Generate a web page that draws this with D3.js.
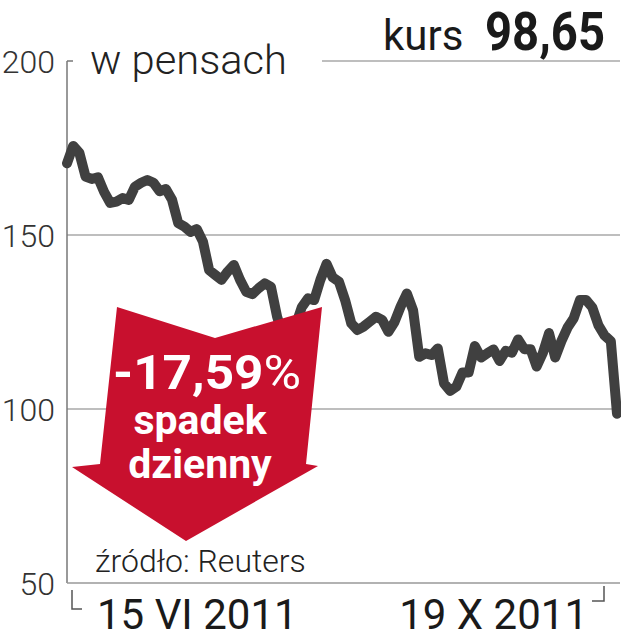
<!DOCTYPE html>
<html>
<head>
<meta charset="utf-8">
<script src="https://cdn.jsdelivr.net/npm/d3@7/dist/d3.min.js"></script>
<style>
  html, body { margin: 0; padding: 0; background: #fff; }
  svg { display: block; }
  text { font-family: Roboto, "Noto Sans", sans-serif; }
</style>
</head>
<body>
<svg id="chart" width="621" height="640"></svg>
<script>
// ---- data ----
const yTicks = [50, 100, 150, 200];
const dateLabels = ["15 VI 2011", "19 X 2011"];
const unitLabel = "w pensach";
const priceLabel = "kurs";
const priceValue = "98,65";
const changeLabel = "-17,59";
const changeLines = ["spadek", "dzienny"];
const sourceLabel = "źródło: Reuters";
const closes = [
  170.6, 175.6, 173.6, 166.8, 166.1, 166.6, 162.4, 159.2, 159.6, 160.6,
  160.1, 163.9, 165.0, 165.8, 165.0, 162.6, 163.2, 160.1, 153.4, 152.4,
  150.9, 151.7, 148.1, 139.9, 138.5, 137.1, 139.5, 141.4, 137.1, 133.7,
  133.0, 134.7, 136.1, 135.1, 126.5, 121.0, 119.0, 124.0, 129.3, 131.8,
  131.3, 137.1, 141.7, 137.8, 136.6, 131.3, 124.6, 122.7, 123.7, 125.1,
  126.5, 125.6, 122.2, 125.0, 129.5, 133.2, 128.4, 115.0, 116.0, 115.5,
  117.4, 107.4, 105.2, 106.4, 110.5, 110.5, 118.1, 114.8, 116.0, 117.1,
  113.8, 116.7, 116.2, 120.0, 117.2, 117.2, 112.2, 116.1, 121.8, 114.8,
  119.5, 123.4, 126.1, 131.3, 131.3, 129.2, 124.0, 121.1, 119.5, 98.65
];
const days = closes.map((d, i) => i);

// ---- layout ----
const svg = d3.select("#chart");
const pLeft = 67, pRight = 617, pTop = 61, pBottom = 583;
const x = d3.scaleLinear().domain([0, days.length - 1]).range([pLeft, pRight]);
const y = d3.scaleLinear().domain([50, 200]).range([pBottom, pTop]);

// gridlines
svg.append("g").selectAll("line").data([100, 150]).join("line")
  .attr("x1", pLeft).attr("x2", 620)
  .attr("y1", d => y(d)).attr("y2", d => y(d))
  .attr("stroke", "#a8a8a8").attr("stroke-width", 1.5);
// top line under price
svg.append("line").attr("x1", 322).attr("x2", 620)
  .attr("y1", y(200)).attr("y2", y(200))
  .attr("stroke", "#a8a8a8").attr("stroke-width", 1.5);
svg.append("line").attr("x1", pLeft).attr("x2", 73)
  .attr("y1", y(200)).attr("y2", y(200))
  .attr("stroke", "#777").attr("stroke-width", 1.5);
// axes lines
svg.append("line").attr("x1", pLeft).attr("x2", pLeft)
  .attr("y1", y(200)).attr("y2", y(50))
  .attr("stroke", "#777").attr("stroke-width", 1.5);
svg.append("line").attr("x1", pLeft).attr("x2", 620)
  .attr("y1", y(50)).attr("y2", y(50))
  .attr("stroke", "#999").attr("stroke-width", 1.5);

// y axis labels
const yAxis = d3.axisLeft(y).tickValues(yTicks).tickSize(0).tickPadding(12);
const gy = svg.append("g").attr("transform", `translate(${pLeft},0)`).call(yAxis);
gy.select(".domain").remove();
gy.selectAll("text")
  .attr("font-family", "Roboto, sans-serif")
  .attr("font-weight", 300)
  .attr("font-size", 32)
  .attr("fill", "#333")
  .attr("dy", "0.36em");

// title
svg.append("text").attr("x", 90).attr("y", 74)
  .attr("font-size", 41).attr("font-weight", 300).attr("fill", "#222")
  .attr("textLength", 197).attr("lengthAdjust", "spacingAndGlyphs")
  .text(unitLabel);
svg.append("text").attr("x", 383).attr("y", 50)
  .attr("font-size", 42).attr("font-weight", 400).attr("fill", "#1a1a1a")
  .text(priceLabel);
svg.append("text").attr("x", 485).attr("y", 50)
  .attr("font-size", 53).attr("font-weight", 700).attr("fill", "#1a1a1a")
  .attr("textLength", 120).attr("lengthAdjust", "spacingAndGlyphs")
  .text(priceValue);

// line
const line = d3.line().x((d, i) => x(days[i])).y(d => y(d));
svg.append("path").datum(closes)
  .attr("d", line)
  .attr("fill", "none")
  .attr("stroke", "#404040")
  .attr("stroke-width", 10)
  .attr("stroke-linejoin", "round")
  .attr("stroke-linecap", "round");

// arrow
const arrowPts = [[117, 307], [215, 338], [322, 307], [306, 464], [318, 466],
                  [186, 541], [72, 467], [100, 464]];
svg.append("path")
  .attr("d", d3.line()(arrowPts) + "Z")
  .attr("fill", "#c8102e");

const at = svg.append("text").attr("x", 207).attr("y", 389)
  .attr("text-anchor", "middle").attr("fill", "#fff")
  .attr("font-size", 48).attr("font-weight", 700)
  .attr("textLength", 188).attr("lengthAdjust", "spacingAndGlyphs");
at.append("tspan").text(changeLabel);
at.append("tspan").attr("font-weight", 400).text("%");

svg.append("g").selectAll("text").data(changeLines).join("text")
  .attr("x", 200).attr("y", (d, i) => 434 + i * 44)
  .attr("text-anchor", "middle").attr("fill", "#fff")
  .attr("font-size", 41).attr("font-weight", 700)
  .text(d => d);

// source
svg.append("text").attr("x", 95).attr("y", 572)
  .attr("font-size", 32).attr("font-weight", 300).attr("fill", "#222")
  .text(sourceLabel);

// date brackets
svg.append("path").attr("d", "M72,590V609H82")
  .attr("fill", "none").attr("stroke", "#555").attr("stroke-width", 1.5);
svg.append("path").attr("d", "M592,601H604V586")
  .attr("fill", "none").attr("stroke", "#555").attr("stroke-width", 1.5);

// date labels
svg.append("text").attr("x", 97).attr("y", 629)
  .attr("font-size", 42).attr("font-weight", 400).attr("fill", "#1a1a1a")
  .text(dateLabels[0]);
svg.append("text").attr("x", 588).attr("y", 629).attr("text-anchor", "end")
  .attr("font-size", 42).attr("font-weight", 400).attr("fill", "#1a1a1a")
  .text(dateLabels[1]);
</script>
</body>
</html>
